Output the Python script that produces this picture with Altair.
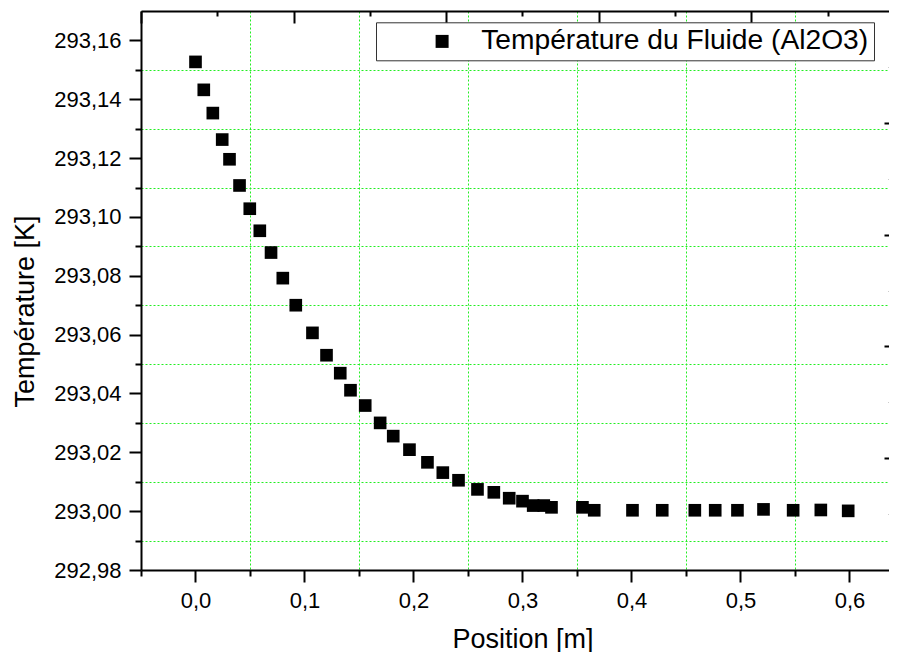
import altair as alt
import pandas as pd

FONT = "Liberation Sans"

series_name = "Température du Fluide (Al2O3)"

position = [0.0, 0.0076, 0.0159, 0.0245, 0.0312, 0.0404, 0.0498, 0.0590, 0.0693, 0.0801,
            0.0920, 0.1073, 0.1202, 0.1328, 0.1422, 0.1557, 0.1694, 0.1814, 0.1963, 0.2128,
            0.2269, 0.2413, 0.2587, 0.2737, 0.2878, 0.3000, 0.3098, 0.3195, 0.3266, 0.3550,
            0.3658, 0.4009, 0.4282, 0.4581, 0.4768, 0.4972, 0.5211, 0.5483, 0.5737, 0.5988]

temperature = [293.1527, 293.1432, 293.1353, 293.1263, 293.1196, 293.1107, 293.1028, 293.0953, 293.0879, 293.0792,
               293.0700, 293.0606, 293.0530, 293.0469, 293.0411, 293.0359, 293.0300, 293.0255, 293.0209, 293.0166,
               293.0131, 293.0105, 293.0074, 293.0064, 293.0044, 293.0034, 293.0019, 293.0019, 293.0013, 293.0013,
               293.0003, 293.0003, 293.0003, 293.0003, 293.0003, 293.0003, 293.0006, 293.0003, 293.0004, 293.0001]

x_domain = [-0.05, 0.63624]
y_domain = [292.98, 293.17]

x_major = [0.0, 0.1, 0.2, 0.3, 0.4, 0.5, 0.6]
x_minor = [-0.05, 0.05, 0.15, 0.25, 0.35, 0.45, 0.55]
y_major = [292.98, 293.0, 293.02, 293.04, 293.06, 293.08, 293.1, 293.12, 293.14, 293.16]
y_minor = [292.99, 293.01, 293.03, 293.05, 293.07, 293.09, 293.11, 293.13, 293.15]

top_major = [-0.05, 0.09, 0.23, 0.37, 0.51]
top_minor = [0.02, 0.16, 0.30, 0.44, 0.58]
right_major = [293.018, 293.056, 293.094, 293.132]
right_minor = [292.999, 293.037, 293.075, 293.113, 293.151]

df = pd.DataFrame({"position": position, "temperature": temperature, "series": series_name})

xscale = alt.Scale(domain=x_domain, nice=False, zero=False)
yscale = alt.Scale(domain=y_domain, nice=False, zero=False)

comma = "replace(datum.label, '.', ',')"

common_tick = dict(tickColor="black", tickWidth=2, labelFont=FONT, labelColor="black")

points = alt.Chart(df).mark_point(shape="square", filled=True, size=160, opacity=1).encode(
    x=alt.X("position:Q", scale=xscale, axis=alt.Axis(
        orient="bottom", values=x_major, format=".1f", labelExpr=comma,
        tickSize=12, labelFontSize=22, labelPadding=8, labelFlush=False, labelOverlap=False,
        domain=True, domainColor="black", domainWidth=2, grid=False,
        title="Position [m]", titleFont=FONT, titleFontSize=27, titleFontWeight="normal",
        titleColor="black", titleX=381.5, titleY=77, titleAlign="center", titleBaseline="alphabetic",
        **common_tick)),
    y=alt.Y("temperature:Q", scale=yscale, axis=alt.Axis(
        orient="left", values=y_major, format=".2f", labelExpr=comma,
        tickSize=12, labelFontSize=22, labelPadding=8, labelFlush=False, labelOverlap=False,
        domain=True, domainColor="black", domainWidth=2, grid=False,
        title="Température [K]", titleFont=FONT, titleFontSize=27, titleFontWeight="normal",
        titleColor="black", titleAngle=270, titleX=-108, titleY=300, titleAlign="center",
        titleBaseline="alphabetic", **common_tick)),
    color=alt.Color("series:N", scale=alt.Scale(range=["black"]), legend=alt.Legend(
        orient="none", legendX=235, legendY=11.3, title=None,
        symbolType="square", symbolSize=169, symbolFillColor="black", symbolStrokeWidth=0,
        symbolOffset=47, labelOffset=25, labelFont=FONT, labelFontSize=28.2,
        labelColor="black", labelLimit=1000,
        padding=5, strokeColor="#333333", fillColor="white")),
)

grid_style = dict(grid=True, gridColor="#22ee22", gridDash=[2, 2], gridWidth=1, gridOpacity=1)

minor = alt.Chart(df).mark_point(opacity=0).encode(
    x=alt.X("position:Q", scale=xscale, axis=alt.Axis(
        orient="bottom", values=x_minor, labels=False, tickSize=6, domain=False,
        title=None, **grid_style, tickColor="black", tickWidth=2)),
    y=alt.Y("temperature:Q", scale=yscale, axis=alt.Axis(
        orient="left", values=y_minor, labels=False, tickSize=6, domain=False,
        title=None, **grid_style, tickColor="black", tickWidth=2)),
)

frame_major = alt.Chart(df).mark_point(opacity=0).encode(
    x=alt.X("position:Q", scale=xscale, axis=alt.Axis(
        orient="top", values=top_major, labels=False, tickSize=alt.ExprRef("-12"),
        domain=True, domainColor="black", domainWidth=2, grid=False, title=None,
        tickColor="black", tickWidth=2)),
    y=alt.Y("temperature:Q", scale=yscale, axis=alt.Axis(
        orient="right", values=right_major, labels=False, tickSize=alt.ExprRef("-5"),
        domain=False, grid=False, title=None,
        tickColor="black", tickWidth=2)),
)

frame_minor = alt.Chart(df).mark_point(opacity=0).encode(
    x=alt.X("position:Q", scale=xscale, axis=alt.Axis(
        orient="top", values=top_minor, labels=False, tickSize=alt.ExprRef("-5"),
        domain=False, grid=False, title=None, tickColor="black", tickWidth=2)),
    y=alt.Y("temperature:Q", scale=yscale, axis=alt.Axis(
        orient="right", values=right_minor, labels=False, tickSize=alt.ExprRef("-1"),
        domain=False, grid=False, title=None, tickColor="#999999", tickWidth=1)),
)

chart = alt.layer(minor, frame_major, frame_minor, points).resolve_scale(
    x="shared", y="shared"
).resolve_axis(
    x="independent", y="independent"
).properties(
    width=748, height=559,
    autosize=alt.AutoSizeParams(type="none"),
    padding={"left": 133, "top": 3, "right": 0, "bottom": 82},
    background="white",
).configure_view(stroke=None)

chart.save("out.html", embed_options={"renderer": "svg", "actions": False})
